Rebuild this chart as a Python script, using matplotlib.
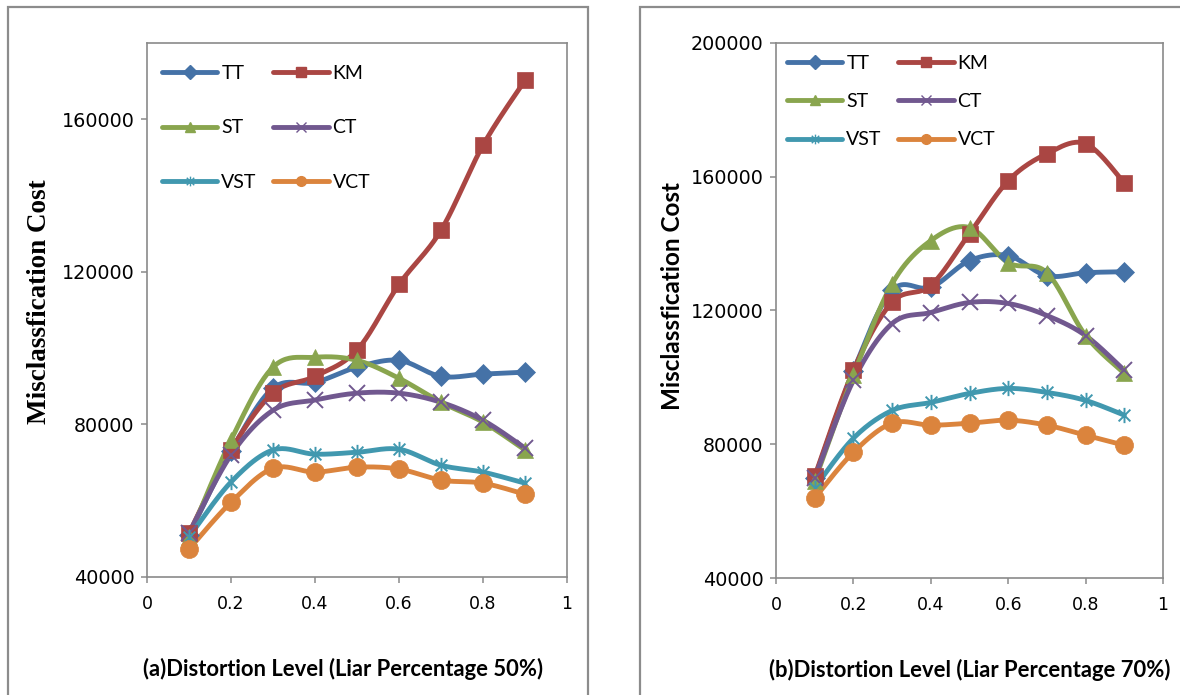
import numpy as np
import matplotlib.pyplot as plt
from matplotlib.path import Path
from matplotlib.lines import Line2D
from matplotlib.patches import Rectangle
from matplotlib.ticker import FuncFormatter

# ---- data ----
distortion = [0.1, 0.2, 0.3, 0.4, 0.5, 0.6, 0.7, 0.8, 0.9]
series_names = ["TT", "KM", "ST", "CT", "VST", "VCT"]

tt_50 = [51000, 73000, 89500, 91000, 95000, 96800, 92600, 93200, 93700]
km_50 = [51500, 73300, 88200, 92600, 99500, 116700, 130900, 153200, 170200]
st_50 = [50500, 75900, 95000, 97600, 96800, 92100, 85800, 80600, 73300]
ct_50 = [51500, 72000, 83700, 86400, 88200, 88200, 85800, 81100, 73800]
vst_50 = [50500, 64900, 73300, 72200, 72700, 73500, 69300, 67500, 64600]
vct_50 = [47300, 59600, 68500, 67500, 68800, 68300, 65400, 64600, 61700]

tt_70 = [70000, 102000, 126000, 126900, 134900, 136400, 130400, 131300, 131600]
km_70 = [70400, 102100, 122500, 127500, 143000, 158800, 166900, 169900, 158200]
st_70 = [69000, 100600, 128000, 140900, 144800, 134300, 131300, 112500, 101200]
ct_70 = [69900, 99100, 116100, 119400, 122400, 122100, 118500, 112500, 102100]
vst_70 = [67000, 81800, 90100, 92500, 95200, 96700, 95500, 93100, 88700]
vct_70 = [63900, 77600, 86300, 85700, 86300, 87200, 85700, 82700, 79700]

x_ticks = [0, 0.2, 0.4, 0.6, 0.8, 1]
y_ticks_50 = [40000, 80000, 120000, 160000]
y_ticks_70 = [40000, 80000, 120000, 160000, 200000]

ylabel_text = "Misclassfication Cost"
xlabel_50 = "(a)Distortion Level (Liar Percentage 50%)"
xlabel_70 = "(b)Distortion Level (Liar Percentage 70%)"

# ---- styles ----
colors = ["#4572A7", "#AA4643", "#89A54E", "#71588F", "#4198AF", "#DB843D"]

star = Path([(-1, -1), (1, 1), (-1, 1), (1, -1), (0, -1.3), (0, 1.3)],
            [Path.MOVETO, Path.LINETO, Path.MOVETO, Path.LINETO,
             Path.MOVETO, Path.LINETO])
markers = ["D", "s", "^", "x", star, "o"]
msizes = [10, 11, 12, 11, 11, 13]
mews = [0.5, 0.5, 0.5, 1.4, 1.4, 0.5]

W, H = 1180, 695
fig = plt.figure(figsize=(W / 100, H / 100), dpi=100)
fig.patch.set_facecolor("white")

# chart-area frames
for (x0, x1) in [(8, 588), (640, 1240)]:
    fig.patches.append(Rectangle((x0 / W, -0.05), (x1 - x0) / W, 1.05 - 7 / H,
                                 transform=fig.transFigure, fill=False,
                                 edgecolor="#8c8c8c", linewidth=1.6, zorder=0))


def smooth_curve(x, y, n=24):
    """Bezier-smoothed line through the points (cardinal spline)."""
    p = np.column_stack([x, y]).astype(float)
    ext = np.vstack([p[0], p, p[-1]])
    xs, ys = [], []
    t = np.linspace(0, 1, n)[:, None]
    for i in range(len(p) - 1):
        p0, p1, p2, p3 = ext[i], ext[i + 1], ext[i + 2], ext[i + 3]
        c1 = p1 + (p2 - p0) / 6.0
        c2 = p2 - (p3 - p1) / 6.0
        seg = ((1 - t) ** 3) * p1 + 3 * ((1 - t) ** 2) * t * c1 \
            + 3 * (1 - t) * t ** 2 * c2 + t ** 3 * p2
        xs.extend(seg[:, 0])
        ys.extend(seg[:, 1])
    return np.array(xs), np.array(ys)


def tick_fmt(v, pos):
    return "%g" % v


def draw_panel(rect, data, yticks, ylim, ylab_font, ylab_pos, xlab, xlab_pos,
               leg_anchor, leg_spacing):
    ax = fig.add_axes(rect)
    for name, vals, c, m, ms, mew in zip(series_names, data, colors, markers,
                                         msizes, mews):
        sx, sy = smooth_curve(distortion, vals)
        ax.plot(sx, sy, color=c, lw=3.5, solid_capstyle="round", zorder=2)
        ax.plot(distortion, vals, ls="none", marker=m, markersize=ms,
                color=c, markeredgecolor=c, markeredgewidth=mew, zorder=3)
    ax.set_xlim(0, 1)
    ax.set_ylim(*ylim)
    ax.set_xticks(x_ticks)
    ax.set_yticks(yticks)
    ax.xaxis.set_major_formatter(FuncFormatter(tick_fmt))
    for s in ax.spines.values():
        s.set_color("#8a8a8a")
        s.set_linewidth(1.2)
    ax.tick_params(direction="out", length=4, width=1.1, color="#8a8a8a",
                   labelcolor="black")
    ax.tick_params(axis="x", labelsize=12.5, pad=9)
    ax.tick_params(axis="y", labelsize=13.8, pad=5)
    ax.set_ylabel(ylabel_text, va="center", **ylab_font)
    ax.yaxis.set_label_coords(*ylab_pos)
    ax.set_xlabel(xlab, fontsize=15.8, fontweight="bold", family="Lato",
                  va="center")
    ax.xaxis.set_label_coords(*xlab_pos)

    handles = []
    for name, c, m in zip(series_names, colors, markers):
        handles.append(Line2D([], [], color=c, lw=3.5, marker=m, markersize=7,
                              markeredgecolor=c, markeredgewidth=1.0,
                              solid_capstyle="round", label=name))
    order = [0, 2, 4, 1, 3, 5]
    ax.legend([handles[i] for i in order], [series_names[i] for i in order],
              ncol=2, loc="upper left", bbox_to_anchor=leg_anchor,
              frameon=False, handlelength=2.85,
              handletextpad=0.2, columnspacing=0.85, labelspacing=leg_spacing,
              borderpad=0, borderaxespad=0,
              prop={"family": "Lato", "size": 14})
    return ax


# panel (a): 50% liars
axL = [147 / W, 1 - 577 / H, (567 - 147) / W, (577 - 43) / H]
draw_panel(axL, [tt_50, km_50, st_50, ct_50, vst_50, vct_50], y_ticks_50,
           (40000, 180000),
           dict(family="Liberation Serif", fontweight="bold", fontsize=19.5),
           (-(147 - 40) / 420, 0.515), xlabel_50, (0.467, -0.172),
           (15 / 420, 1 - 22 / 534), 1.92)

# panel (b): 70% liars
axR = [776 / W, 1 - 578 / H, (1163 - 776) / W, (578 - 43) / H]
draw_panel(axR, [tt_70, km_70, st_70, ct_70, vst_70, vct_70], y_ticks_70,
           (40000, 200000),
           dict(family="Lato", fontweight="bold", fontsize=17.5),
           (-(776 - 673) / 387, 0.527), xlabel_70, (0.501, -0.172),
           (11 / 387, 1 - 12 / 535), 1.09)

fig.savefig("out.png", dpi=100, facecolor="white")
